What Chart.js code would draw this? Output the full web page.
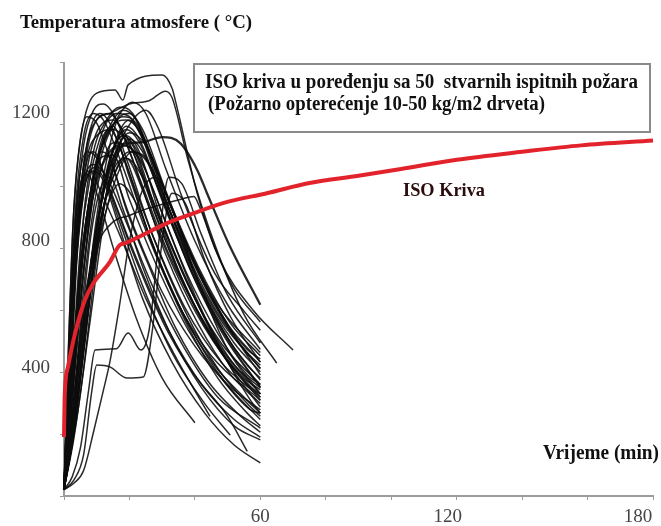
<!DOCTYPE html>
<html>
<head>
<meta charset="utf-8">
<script src="https://cdn.jsdelivr.net/npm/chart.js@4.4.1/dist/chart.umd.min.js"></script>
<style>html,body{margin:0;padding:0;background:#fff}</style>
</head>
<body>
<canvas id="fireChart" width="661" height="526"></canvas>
<script>
// ISO kriva (t u min, T u °C), ocitano sa slike
const isoTime = [0, 0.2, 1.2, 3.4, 6.4, 9, 14, 17, 19, 24, 31.5, 38, 48.6, 62, 75, 90, 103, 120, 140, 158, 180];
const isoTemp = [185, 310, 404, 511, 615, 668, 734, 787, 794, 819, 856, 881, 919, 950, 982, 1005, 1026, 1055, 1080, 1100, 1115];

// 50 stvarnih ispitnih pozara: [t, T]
const fire01 = [[0,20],[1.5,500],[3,900],[5,1115],[10,1264],[15.6,1274],[18,1242],[19.6,1290],[30,1321],[33,1280],[34,1242],[40.7,950],[47.7,740],[57.8,583],[70,458]];
const fire02 = [[0,20],[2,450],[4,850],[7,1100],[10,1180],[14,1200],[20,1230],[26,1240],[31,1270],[33,1250],[38,1050],[45,820],[55,570],[65,417]];
const fire03 = [[0,20],[2,300],[5,700],[9,950],[14,1080],[20,1107],[24,1110],[30,1126],[35.5,1107],[40.7,1023],[43.7,950],[50.8,781],[60,600]];
const fire04 = [[0,20],[3,300],[6,600],[10,780],[15,860],[20,880],[25,900],[30,915],[35.5,930],[39.7,940],[41.5,905],[46,780],[52,650],[60,546]];
const fire05 = [[0,20],[2.5,60],[5,150],[7.5,330],[9.5,458],[16,462],[19.6,511],[23.5,458],[26,520],[29,800],[32,1000],[36,980],[42,820],[50,630],[60,480]];
const fire06 = [[0,20],[3,50],[6,130],[8.5,330],[10,411],[14,405],[19.3,370],[24.2,373],[27,520],[30,800],[33,950],[37,920],[43,740],[51,560],[60,420]];
const fire07 = [[0,20],[3,40],[6,80],[9,200],[12,330],[14,420],[17,600],[20,800],[24,960],[28,1000],[33,900],[40,700],[50,460],[60,320]];
const fire08 = [[0,30],[1,350],[2.5,800],[4.5,1080],[7,1190],[10,1170],[14,1060],[20,880],[30,640],[40,470],[50,350],[60,270]];
const fire09 = [[0,20],[1,200],[3,600],[5,900],[7,1050],[9,1080],[13,990],[20,800],[30,560],[40,380],[50,250],[56,140]];
const fire10 = [[0,20],[2,500],[4,850],[6,1000],[8,1020],[11,960],[17,820],[25,620],[35,420],[44.6,250]];
const fire11 = [[0,25],[1.5,450],[3.5,900],[6,1130],[9,1200],[12,1180],[17,1060],[24,860],[34,620],[45,440],[60,300]];
const fire12 = [[0,20],[2,250],[5,600],[8,900],[11,1100],[14,1150],[18,1070],[26,820],[36,580],[46,410],[56,300],[60,260]];
const fire13 = [[0,20],[2.5,300],[5,650],[8,950],[11,1080],[14,1060],[19,900],[26,720],[34,530],[44,360],[54,250],[60,200]];
const fire14 = [[0,25],[1,250],[3,700],[5.5,1000],[8,1150],[11,1200],[14,1170],[19,1040],[27,820],[37,590],[48,420],[60,310]];
const fire15 = [[0,20],[3,350],[6,700],[9,950],[12,1120],[15,1160],[19,1060],[27,820],[37,580],[47,400],[56,290],[60,250]];
const fire16 = [[0,20],[3,250],[6,550],[10,850],[14,1050],[18,1130],[22,1080],[28,900],[37,660],[47,470],[56,350],[60,320]];
const fire17 = [[0,20],[1.5,300],[3.5,700],[6,950],[9,1030],[12,1000],[17,860],[24,660],[33,450],[43,290],[50.8,191]];
const fire18 = [[0,20],[4,300],[8,650],[12,950],[16,1120],[20,1180],[24,1120],[30,940],[39,700],[49,500],[60,340]];
const fire19 = [[0,20],[3,250],[7,600],[11,900],[15,1080],[19,1160],[23,1120],[29,960],[38,730],[48,530],[56,410],[60,370]];
const fire20 = [[0,20],[3,200],[6,500],[9,800],[12,1000],[17,1190],[20,1200],[24,1150],[31,960],[40,730],[50,540],[60,420]];
const fire21 = [[0,20],[3,400],[6,800],[10,1050],[14,1160],[18,1210],[22,1180],[28,1020],[36,800],[46,590],[56,450],[60,410]];
const fire22 = [[0,20],[2,200],[5,500],[8,800],[11,960],[14,1000],[18,900],[24,720],[32,520],[42,340],[52,220],[60,176]];
const fire23 = [[0,20],[3,300],[6,650],[9,900],[13,1080],[16,1110],[20,1000],[27,790],[37,550],[47,370],[56,260],[60,220]];
const fire24 = [[0,30],[2,450],[4,850],[7,1080],[10,1180],[14,1200],[17,1160],[23,1000],[32,760],[42,560],[52,410],[60,340]];
const fire25 = [[0,20],[2.5,400],[5,780],[8,1000],[12,1150],[16,1200],[20,1190],[25,1100],[32,900],[42,650],[52,480],[60,390]];
const fire26 = [[0,20],[4,300],[7,550],[11,900],[14,1050],[19,1150],[23,1110],[29,960],[38,740],[48,550],[60,400]];
const fire27 = [[0,20],[3,200],[7,550],[11,850],[15,1020],[19,1060],[24,960],[31,760],[41,540],[51,380],[60,290]];
const fire28 = [[0,20],[1.5,350],[4,820],[7,1060],[10,1130],[15,1150],[20,1100],[28,900],[38,660],[48,480],[60,350]];
const fire29 = [[0,20],[3,220],[6,480],[10,780],[14,980],[18,1100],[22,1070],[28,880],[38,640],[48,450],[60,301]];
const fire30 = [[0,20],[3,450],[6,880],[9,1080],[13,1180],[17,1220],[21,1200],[27,1060],[36,820],[46,600],[56,460],[60,430]];
const fire31 = [[0,20],[2,350],[4,750],[7,1020],[11,1160],[15,1180],[19,1130],[26,940],[35,700],[45,500],[55,370],[60,333]];
const fire32 = [[0,20],[4,250],[8,550],[12,850],[16,1000],[21,1080],[26,1040],[33,880],[42,650],[51,480],[60,364]];
const fire33 = [[0,20],[1,300],[2.5,700],[4.5,980],[7,1080],[10,1060],[15,930],[22,740],[32,510],[42,350],[52,240],[60,185]];
const fire34 = [[0,20],[3,280],[7,620],[11,900],[15,1060],[19,1130],[23,1080],[30,860],[40,620],[50,440],[60,320]];
const fire35 = [[0,20],[3,200],[6,450],[10,800],[15,1000],[20,1080],[25,1060],[32,900],[42,680],[52,500],[60,400]];
const fire36 = [[0,20],[2.5,350],[5,680],[8,920],[11,1060],[15,1070],[20,930],[28,730],[38,520],[48,370],[57,270],[60,260]];
const fire37 = [[0,20],[2.5,350],[5,720],[9,1000],[13,1130],[18,1190],[22,1170],[28,1030],[37,800],[47,600],[60,450]];
const fire38 = [[0,20],[3,220],[7,560],[11,860],[15,1000],[19,1060],[24,1000],[31,830],[40,620],[50,420],[60,279]];
const fire39 = [[0,20],[4,300],[8,640],[12,900],[16,1060],[20,1120],[24,1080],[31,900],[40,680],[50,490],[60,342]];
const fire40 = [[0,20],[1.5,400],[3.5,850],[6,1100],[9,1210],[12,1230],[15,1200],[20,1080],[28,850],[38,620],[48,450],[60,310]];
const fire41 = [[0,20],[3,250],[6,550],[10,850],[14,1060],[18,1130],[22,1090],[28,940],[37,710],[47,510],[56,380],[60,350]];
const fire42 = [[0,20],[3,180],[6,400],[10,750],[14,1000],[20,1140],[25,1100],[32,930],[41,720],[51,540],[60,440]];
const fire43 = [[0,20],[2,400],[4,800],[6,980],[9,1040],[13,1000],[19,860],[27,660],[37,460],[47,310],[60,213]];
const fire44 = [[0,20],[3,400],[7,800],[11,1050],[16,1180],[21,1235],[25,1200],[31,1030],[40,800],[50,600],[60,460]];
const fire45 = [[0,20],[2,320],[5,720],[9,1000],[14,1150],[19,1180],[24,1130],[31,950],[41,710],[51,520],[60,380]];
const fire46 = [[0,20],[3,200],[6,450],[9,700],[13,900],[17,980],[22,920],[29,740],[39,520],[49,360],[60,240]];
const fire47 = [[0,20],[3,300],[7,650],[11,900],[16,1080],[21,1180],[25,1210],[29,1150],[36,940],[46,700],[55,580],[60,520]];
const fire48 = [[0,20],[3,280],[7,620],[11,900],[15,1060],[19,1100],[24,1040],[31,860],[40,630],[49,440],[57,300],[60,260]];
const fire49 = [[0,20],[1.5,350],[3.5,750],[6,960],[9,1020],[12,990],[17,840],[24,620],[33,420],[43,260],[52,160],[60,104]];
const fire50 = [[0,20],[1,300],[3,750],[5,980],[7,1010],[10,950],[15,780],[22,560],[30,370],[40,230]];

const fireCurves = [fire01, fire02, fire03, fire04, fire05, fire06, fire07, fire08, fire09, fire10,
  fire11, fire12, fire13, fire14, fire15, fire16, fire17, fire18, fire19, fire20,
  fire21, fire22, fire23, fire24, fire25, fire26, fire27, fire28, fire29, fire30,
  fire31, fire32, fire33, fire34, fire35, fire36, fire37, fire38, fire39, fire40,
  fire41, fire42, fire43, fire44, fire45, fire46, fire47, fire48, fire49, fire50];

const xTickLabels = [60, 120, 180];
const yTickLabels = [400, 800, 1200];

const serif = '"Liberation Serif", "DejaVu Serif", serif';
const axisGray = '#9c9c9c';
const tickFont = `19px ${serif}`;
const xLabelShift = { 60: 0, 120: -9, 180: -15 };

// tekst sabijen na zadanu sirinu (kao na slici)
function fitText(ctx, str, x, y, width, size) {
  ctx.font = `bold ${size}px ${serif}`;
  const w = ctx.measureText(str).width;
  ctx.save();
  ctx.translate(x, y);
  ctx.scale(width / w, 1);
  ctx.fillText(str, 0, 0);
  ctx.restore();
}

const labelsPlugin = {
  id: 'labels',
  afterDraw(chart) {
    const ctx = chart.ctx;
    const xs = chart.scales.x;
    const ys = chart.scales.y;
    ctx.save();

    // oznake osa
    ctx.font = tickFont;
    ctx.fillStyle = '#444';
    ctx.textBaseline = 'middle';
    ctx.textAlign = 'right';
    yTickLabels.forEach(v => ctx.fillText(String(v), 50, ys.getPixelForValue(v)));
    ctx.textAlign = 'center';
    xTickLabels.forEach(v => ctx.fillText(String(v), xs.getPixelForValue(v) + xLabelShift[v], 517));

    ctx.textBaseline = 'alphabetic';
    ctx.textAlign = 'left';
    ctx.fillStyle = '#111';
    fitText(ctx, 'Temperatura atmosfere ( °C)', 20, 28, 232, 19);

    // okvir s opisom
    ctx.fillStyle = '#fff';
    ctx.fillRect(194, 64, 456, 68);
    ctx.strokeStyle = '#8a8a8a';
    ctx.lineWidth = 2;
    ctx.strokeRect(194, 64, 456, 68);
    ctx.fillStyle = '#111';
    fitText(ctx, 'ISO kriva u poređenju sa 50  stvarnih ispitnih požara', 205, 88, 433, 20);
    fitText(ctx, '(Požarno opterećenje 10-50 kg/m2 drveta)', 208, 110, 337, 20);

    ctx.fillStyle = '#2a0c0c';
    fitText(ctx, 'ISO Kriva', 403, 196, 82, 19);
    ctx.fillStyle = '#111';
    fitText(ctx, 'Vrijeme (min)', 543, 459, 116, 20);
    ctx.restore();
  }
};

const datasets = [{
  label: 'ISO kriva',
  data: isoTime.map((t, i) => ({ x: t, y: isoTemp[i] })),
  borderColor: '#e3232b',
  borderWidth: 4,
  pointRadius: 0,
  clip: 6,
  cubicInterpolationMode: 'monotone'
}];
fireCurves.forEach((curve, i) => {
  datasets.push({
    label: 'Pozar ' + (i + 1),
    data: curve.map(([t, T]) => ({ x: t, y: T })),
    borderColor: 'rgba(12,12,12,0.88)',
    borderWidth: i === 2 ? 2.3 : 1.5,
    pointRadius: 0,
    clip: 3,
    cubicInterpolationMode: 'monotone'
  });
});

new Chart(document.getElementById('fireChart').getContext('2d'), {
  type: 'line',
  data: { datasets },
  options: {
    responsive: false,
    devicePixelRatio: 1,
    animation: false,
    layout: { padding: { left: 10, right: 8, top: 62.5, bottom: 0 } },
    plugins: { legend: { display: false }, tooltip: { enabled: false }, title: { display: false } },
    scales: {
      x: {
        type: 'linear',
        min: 0,
        max: 180,
        border: { color: axisGray, width: 2 },
        grid: { drawOnChartArea: false, tickLength: 4, color: axisGray },
        ticks: { stepSize: 20, autoSkip: false, display: false },
        afterFit: s => { s.height = 30; s.paddingLeft = 0; s.paddingRight = 0; }
      },
      y: {
        min: 0,
        max: 1360,
        border: { color: axisGray, width: 2 },
        grid: { drawOnChartArea: false, tickLength: 4, color: axisGray },
        ticks: { stepSize: 200, includeBounds: false, autoSkip: false, display: false },
        afterFit: s => { s.width = 54; s.paddingTop = 0; s.paddingBottom = 0; }
      }
    }
  },
  plugins: [labelsPlugin]
});
</script>
</body>
</html>
